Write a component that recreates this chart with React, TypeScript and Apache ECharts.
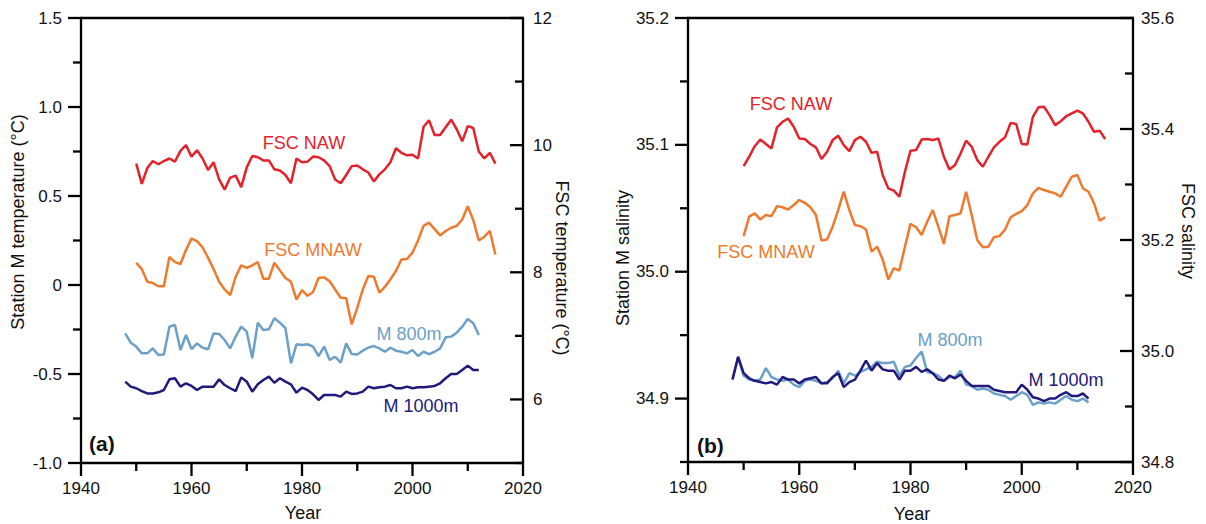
import React, { useEffect, useRef } from "react";
import * as echarts from "echarts";

// ---------- DATA ----------
const fscYears = [
  1950, 1951, 1952, 1953, 1954, 1955, 1956, 1957, 1958, 1959,
  1960, 1961, 1962, 1963, 1964, 1965, 1966, 1967, 1968, 1969,
  1970, 1971, 1972, 1973, 1974, 1975, 1976, 1977, 1978, 1979,
  1980, 1981, 1982, 1983, 1984, 1985, 1986, 1987, 1988, 1989,
  1990, 1991, 1992, 1993, 1994, 1995, 1996, 1997, 1998, 1999,
  2000, 2001, 2002, 2003, 2004, 2005, 2006, 2007, 2008, 2009,
  2010, 2011, 2012, 2013, 2014, 2015,
];
const mYears = [
  1948, 1949,
  1950, 1951, 1952, 1953, 1954, 1955, 1956, 1957, 1958, 1959,
  1960, 1961, 1962, 1963, 1964, 1965, 1966, 1967, 1968, 1969,
  1970, 1971, 1972, 1973, 1974, 1975, 1976, 1977, 1978, 1979,
  1980, 1981, 1982, 1983, 1984, 1985, 1986, 1987, 1988, 1989,
  1990, 1991, 1992, 1993, 1994, 1995, 1996, 1997, 1998, 1999,
  2000, 2001, 2002, 2003, 2004, 2005, 2006, 2007, 2008, 2009,
  2010, 2011, 2012,
];

// (a) temperature
const fscNawTemp = [
  9.71, 9.39, 9.64, 9.75, 9.70, 9.75, 9.79, 9.74, 9.91, 10.0,
  9.82, 9.92, 9.79, 9.61, 9.73, 9.46, 9.30, 9.49, 9.52, 9.34,
  9.65, 9.83, 9.81, 9.76, 9.76, 9.62, 9.60, 9.53, 9.40, 9.79,
  9.73, 9.74, 9.82, 9.81, 9.76, 9.67, 9.46, 9.40, 9.53, 9.67,
  9.68, 9.62, 9.57, 9.43, 9.54, 9.62, 9.73, 9.95, 9.88, 9.84,
  9.85, 9.79, 10.29, 10.39, 10.16, 10.16, 10.28, 10.4, 10.25, 10.06,
  10.3, 10.27, 9.90, 9.79, 9.88, 9.71,
];
const fscMnawTemp = [
  8.15, 8.05, 7.85, 7.83, 7.78, 7.78, 8.24, 8.16, 8.13, 8.35,
  8.53, 8.49, 8.39, 8.23, 8.05, 7.85, 7.73, 7.64, 7.93, 8.11,
  8.07, 8.11, 8.16, 7.90, 7.90, 8.15, 8.03, 7.91, 7.85, 7.57,
  7.72, 7.63, 7.69, 7.91, 7.92, 7.86, 7.73, 7.60, 7.59, 7.18,
  7.44, 7.73, 7.94, 7.93, 7.68, 7.77, 7.89, 8.02, 8.20, 8.21,
  8.31, 8.50, 8.73, 8.78, 8.68, 8.58, 8.65, 8.70, 8.73, 8.83,
  9.04, 8.82, 8.50, 8.56, 8.65, 8.28,
];
const m800Temp = [
  -0.272, -0.324,
  -0.346, -0.384, -0.384, -0.356, -0.393, -0.39, -0.234, -0.225, -0.365, -0.281,
  -0.36, -0.328, -0.352, -0.361, -0.272, -0.275, -0.309, -0.356, -0.29, -0.234,
  -0.262, -0.412, -0.212, -0.253, -0.249, -0.187, -0.212, -0.243, -0.44, -0.333,
  -0.337, -0.333, -0.346, -0.399, -0.346, -0.421, -0.403, -0.436, -0.328, -0.388,
  -0.39, -0.369, -0.352, -0.343, -0.356, -0.375, -0.352, -0.369, -0.375, -0.384,
  -0.365, -0.399, -0.375, -0.388, -0.375, -0.356, -0.294, -0.29, -0.268, -0.234,
  -0.191, -0.215, -0.281,
];
const m1000Temp = [
  -0.543, -0.571,
  -0.58, -0.596, -0.609, -0.609, -0.603, -0.59, -0.53, -0.524, -0.571, -0.552,
  -0.567, -0.59, -0.571, -0.571, -0.571, -0.53, -0.562, -0.58, -0.596, -0.519,
  -0.543, -0.599, -0.558, -0.534, -0.515, -0.549, -0.524, -0.543, -0.558, -0.605,
  -0.577, -0.59, -0.614, -0.646, -0.618, -0.618, -0.618, -0.627, -0.599, -0.612,
  -0.609, -0.599, -0.571, -0.58, -0.575, -0.571, -0.562, -0.58, -0.58, -0.571,
  -0.58, -0.575, -0.575, -0.571, -0.567, -0.552, -0.524, -0.5, -0.5, -0.478,
  -0.453, -0.478, -0.478,
];

// (b) salinity
const fscNawSal = [
  35.333, 35.35, 35.369, 35.381, 35.373, 35.365, 35.403, 35.413, 35.419, 35.404,
  35.383, 35.382, 35.373, 35.367, 35.346, 35.359, 35.38, 35.388, 35.371, 35.36,
  35.38, 35.386, 35.377, 35.357, 35.359, 35.317, 35.293, 35.289, 35.278, 35.323,
  35.361, 35.362, 35.381, 35.382, 35.38, 35.383, 35.35, 35.327, 35.335, 35.356,
  35.379, 35.368, 35.344, 35.332, 35.35, 35.367, 35.377, 35.385, 35.411, 35.409,
  35.373, 35.372, 35.422, 35.439, 35.44, 35.425, 35.407, 35.414, 35.423, 35.428,
  35.433, 35.428, 35.413, 35.395, 35.397, 35.382,
];
const fscMnawSal = [
  35.207, 35.242, 35.248, 35.237, 35.245, 35.243, 35.261, 35.259, 35.255, 35.263,
  35.272, 35.267, 35.259, 35.245, 35.199, 35.201, 35.224, 35.254, 35.287, 35.254,
  35.227, 35.225, 35.219, 35.179, 35.188, 35.165, 35.129, 35.149, 35.145, 35.188,
  35.229, 35.223, 35.209, 35.233, 35.254, 35.224, 35.193, 35.243, 35.245, 35.248,
  35.287, 35.245, 35.2, 35.187, 35.188, 35.205, 35.207, 35.219, 35.241, 35.247,
  35.252, 35.263, 35.284, 35.294, 35.29, 35.287, 35.284, 35.278, 35.296, 35.314,
  35.317, 35.293, 35.287, 35.266, 35.235, 35.241,
];
const m800Sal = [
  34.915, 34.932,
  34.918, 34.915, 34.914, 34.915, 34.924, 34.917, 34.915, 34.914, 34.915, 34.911,
  34.909, 34.914, 34.915, 34.914, 34.912, 34.913, 34.916, 34.922, 34.912, 34.92,
  34.918, 34.921, 34.923, 34.925, 34.929, 34.928, 34.928, 34.929, 34.918, 34.925,
  34.926, 34.932, 34.937, 34.921, 34.92, 34.918, 34.914, 34.917, 34.917, 34.922,
  34.911, 34.91, 34.907, 34.908, 34.907, 34.904, 34.903, 34.902, 34.899, 34.902,
  34.905, 34.903, 34.895, 34.897, 34.896, 34.897, 34.896, 34.899, 34.902, 34.899,
  34.898, 34.9, 34.897,
];
const m1000Sal = [
  34.915, 34.933,
  34.92, 34.916, 34.914, 34.913, 34.912, 34.913, 34.911, 34.917, 34.915, 34.915,
  34.912, 34.915, 34.916, 34.917, 34.912, 34.912, 34.917, 34.92, 34.909, 34.913,
  34.915, 34.922, 34.93, 34.922, 34.928, 34.923, 34.922, 34.922, 34.915, 34.922,
  34.922, 34.925, 34.921, 34.923, 34.92, 34.915, 34.914, 34.918, 34.916, 34.919,
  34.914, 34.91, 34.91, 34.91, 34.91, 34.907, 34.906, 34.905, 34.905, 34.905,
  34.911, 34.907, 34.901, 34.9, 34.898, 34.9, 34.9, 34.903, 34.905, 34.902,
  34.902, 34.904, 34.9,
];

// tick values
const yearMajorTicks = [1940, 1960, 1980, 2000, 2020];
const yearMinorTicks = [1950, 1970, 1990, 2010];
const tempMajorTicks = [-1.0, -0.5, 0, 0.5, 1.0, 1.5];
const tempMinorTicks = [-0.75, -0.25, 0.25, 0.75, 1.25];
const fscTempMajorTicks = [6, 8, 10, 12];
const fscTempMinorTicks = [5, 7, 9, 11];
const salLeftMajorTicks = [34.9, 35.0, 35.1, 35.2];
const salLeftMinorTicks = [34.85, 34.95, 35.05, 35.15];
const salRightMajorTicks = [34.8, 35.0, 35.2, 35.4, 35.6];
const salRightMinorTicks = [34.9, 35.1, 35.3, 35.5];

// ---------- STYLE ----------
const FONT = "'Liberation Sans', Arial, Helvetica, sans-serif";
const RED = "#E3222B";
const ORANGE = "#EE7A2E";
const LIGHTBLUE = "#6BA1C8";
const NAVY = "#211A7C";
const INK = "#111111";
const AXIS_W = 2.3;
const MAJOR = 13;
const MINOR = 8;

const pairs = (xs: number[], ys: number[]) => xs.map((x, i) => [x, ys[i]]);
const ls = () => ({ color: "#000000", width: AXIS_W });

function xAxisBottom(gridIndex: number) {
  return {
    type: "value",
    gridIndex,
    position: "bottom",
    min: 1940,
    max: 2020,
    interval: 20,
    axisLine: { show: true, onZero: false, lineStyle: ls() },
    axisTick: { show: false },
    axisLabel: {
      show: true, margin: 17, color: INK, fontSize: 17, fontFamily: FONT,
      formatter: (v: number) => String(v),
    },
    splitLine: { show: false },
  };
}
function xAxisTop(gridIndex: number) {
  return {
    type: "value",
    gridIndex,
    position: "top",
    min: 1940,
    max: 2020,
    interval: 20,
    axisLine: { show: true, onZero: false, lineStyle: ls() },
    axisTick: { show: false },
    axisLabel: { show: false },
    splitLine: { show: false },
  };
}

export default function App() {
  const ref = useRef<HTMLDivElement>(null);
  useEffect(() => {
    if (!ref.current) return;
    const chart = echarts.init(ref.current, null, { renderer: "svg" });
    const labelBase = { color: INK, fontSize: 17, fontFamily: FONT };
    const txt = (x: number, y: number, text: string, fill: string, extra: any = {}, rotation = 0) => ({
      type: "text",
      x,
      y,
      rotation,
      style: { text, fill, fontSize: 18, fontFamily: FONT, align: "center", verticalAlign: "middle", ...extra },
    });
    const line = (name: string, xi: number, yi: number, xs: number[], ys: number[], color: string) => ({
      name, type: "line", xAxisIndex: xi, yAxisIndex: yi, data: pairs(xs, ys),
      showSymbol: false, lineStyle: { color, width: 2.5 }, itemStyle: { color },
    });
    const texts = [
      txt(304, 143, "FSC NAW", RED),
      txt(313, 250, "FSC MNAW", ORANGE),
      txt(409, 334, "M 800m", LIGHTBLUE),
      txt(421, 406, "M 1000m", NAVY),
      txt(791, 104, "FSC NAW", RED),
      txt(766, 252, "FSC MNAW", ORANGE),
      txt(950, 340, "M 800m", LIGHTBLUE),
      txt(1066, 380, "M 1000m", NAVY),
      txt(89, 443, "(a)", INK, { fontSize: 21, fontWeight: "bold", align: "left" }),
      txt(697, 445, "(b)", INK, { fontSize: 21, fontWeight: "bold", align: "left" }),
      txt(303, 513, "Year", INK),
      txt(912, 514, "Year", INK),
      txt(17.5, 222, "Station M temperature (°C)", INK, {}, Math.PI / 2),
      txt(562, 268, "FSC temperature (°C)", INK, {}, -Math.PI / 2),
      txt(623, 258, "Station M salinity", INK, {}, Math.PI / 2),
      txt(1188, 231, "FSC salinity", INK, {}, -Math.PI / 2),
    ];
    const option: any = {
      animation: false,
      backgroundColor: "#ffffff",
      textStyle: { fontFamily: FONT },
      grid: [
        { left: 81, top: 18, width: 442, height: 445 },
        { left: 688, top: 18, width: 445, height: 444 },
      ],
      xAxis: [xAxisBottom(0), xAxisTop(0), xAxisBottom(1), xAxisTop(1)],
      yAxis: [
        {
          type: "value", gridIndex: 0, position: "left", min: -1, max: 1.5, interval: 0.5,
          axisLine: { show: true, onZero: false, lineStyle: ls() },
          axisTick: { show: false },
          axisLabel: { ...labelBase, margin: 19, formatter: (v: number) => (Math.abs(v) < 1e-9 ? "0" : v.toFixed(1)) },
          splitLine: { show: false },
        },
        {
          type: "value", gridIndex: 0, position: "right", min: 5, max: 12, interval: 1,
          axisLine: { show: true, onZero: false, lineStyle: ls() },
          axisTick: { show: false },
          axisLabel: {
            ...labelBase, margin: 10,
            formatter: (v: number) => (fscTempMajorTicks.includes(Math.round(v)) ? String(Math.round(v)) : ""),
          },
          splitLine: { show: false },
        },
        {
          type: "value", gridIndex: 1, position: "left", min: 34.85, max: 35.2, interval: 0.05,
          axisLine: { show: true, onZero: false, lineStyle: ls() },
          axisTick: { show: false },
          axisLabel: {
            ...labelBase, margin: 19,
            formatter: (v: number) => {
              const k = Math.round(v * 100);
              return k % 10 === 0 ? (k / 100).toFixed(1) : "";
            },
          },
          splitLine: { show: false },
        },
        {
          type: "value", gridIndex: 1, position: "right", min: 34.8, max: 35.6, interval: 0.2,
          axisLine: { show: true, onZero: false, lineStyle: ls() },
          axisTick: { show: false },
          axisLabel: { ...labelBase, margin: 8, formatter: (v: number) => v.toFixed(1) },
          splitLine: { show: false },
        },
      ],
      series: [
        line("FSC NAW", 0, 1, fscYears, fscNawTemp, RED),
        line("FSC MNAW", 0, 1, fscYears, fscMnawTemp, ORANGE),
        line("M 800m", 0, 0, mYears, m800Temp, LIGHTBLUE),
        line("M 1000m", 0, 0, mYears, m1000Temp, NAVY),
        line("FSC NAW", 2, 3, fscYears, fscNawSal, RED),
        line("FSC MNAW", 2, 3, fscYears, fscMnawSal, ORANGE),
        line("M 800m", 2, 2, mYears, m800Sal, LIGHTBLUE),
        line("M 1000m", 2, 2, mYears, m1000Sal, NAVY),
      ],
      graphic: texts,
    };
    chart.setOption(option);

    // Tick marks: positions come from the chart's own axis scales.
    const ticks: any[] = [];
    const px = (xi: number, yi: number, xv: number, yv: number): number[] | null => {
      try {
        const p = chart.convertToPixel({ xAxisIndex: xi, yAxisIndex: yi } as any, [xv, yv]) as any;
        if (p && isFinite(p[0]) && isFinite(p[1])) return p;
      } catch (e) { /* fall through */ }
      try {
        const x = chart.convertToPixel({ xAxisIndex: xi } as any, xv) as any;
        const y = chart.convertToPixel({ yAxisIndex: yi } as any, yv) as any;
        if (isFinite(x) && isFinite(y)) return [x, y];
      } catch (e) { /* ignore */ }
      return null;
    };
    const seg = (p: number[] | null, dx: number, dy: number) => {
      if (!p) return;
      ticks.push({
        type: "line",
        z: 50,
        silent: true,
        shape: { x1: p[0], y1: p[1], x2: p[0] + dx, y2: p[1] + dy },
        style: { stroke: "#000000", lineWidth: AXIS_W },
      });
    };
    // panel (a)
    yearMajorTicks.forEach((x) => seg(px(0, 0, x, -1), 0, MAJOR));
    yearMinorTicks.forEach((x) => seg(px(0, 0, x, -1), 0, MINOR));
    tempMajorTicks.forEach((v) => seg(px(0, 0, 1940, v), -MAJOR, 0));
    tempMinorTicks.forEach((v) => seg(px(0, 0, 1940, v), -MINOR, 0));
    fscTempMajorTicks.forEach((v) => seg(px(0, 1, 2020, v), -MAJOR, 0));
    fscTempMinorTicks.forEach((v) => seg(px(0, 1, 2020, v), -MINOR, 0));
    // panel (b)
    yearMajorTicks.forEach((x) => seg(px(2, 3, x, 34.8), 0, MAJOR));
    yearMinorTicks.forEach((x) => seg(px(2, 3, x, 34.8), 0, MINOR));
    salLeftMajorTicks.forEach((v) => seg(px(2, 2, 1940, v), -MAJOR, 0));
    salLeftMinorTicks.forEach((v) => seg(px(2, 2, 1940, v), -MINOR, 0));
    salRightMajorTicks.forEach((v) => seg(px(2, 3, 2020, v), -MAJOR, 0));
    salRightMinorTicks.forEach((v) => seg(px(2, 3, 2020, v), -MINOR, 0));

    chart.setOption({ graphic: [...texts, ...ticks] });
    return () => chart.dispose();
  }, []);
  return (
    <div
      ref={ref}
      style={{ position: "fixed", left: 0, top: 0, width: 1206, height: 524, background: "#fff" }}
    />
  );
}
